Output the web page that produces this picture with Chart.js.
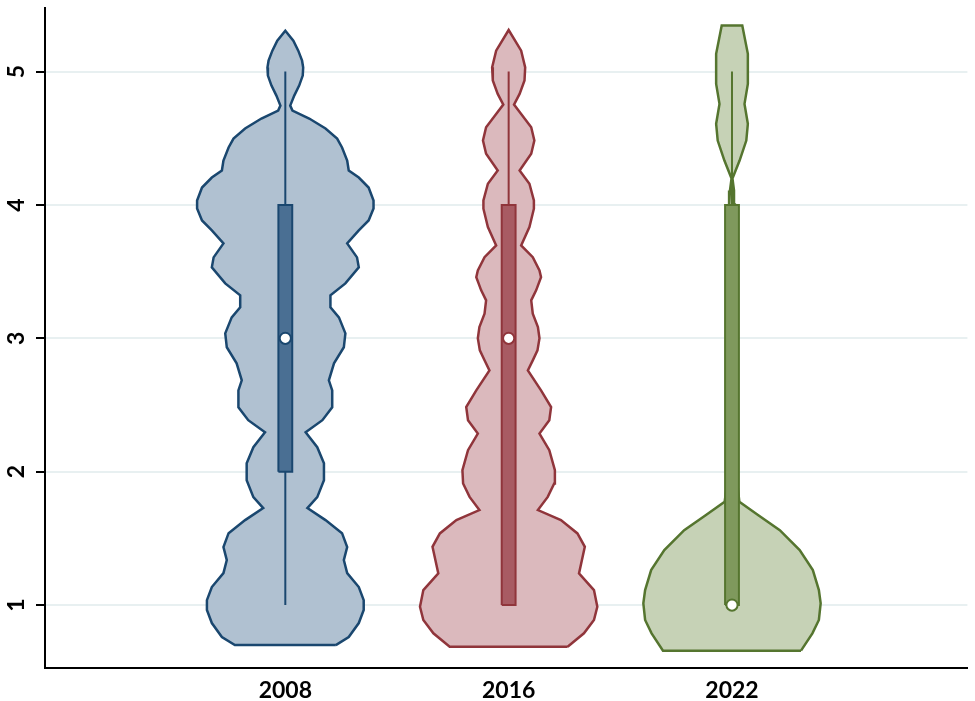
<!DOCTYPE html>
<html>
<head>
<meta charset="utf-8">
<script src="https://cdn.jsdelivr.net/npm/chart.js@4/dist/chart.umd.min.js"></script>
<style>
html,body{margin:0;padding:0;background:#fff;}
#wrap{width:975px;height:701px;}
</style>
</head>
<body>
<div id="wrap"><canvas id="c" width="975" height="701"></canvas></div>
<script>
// ---------- DATA ----------
const categories = ['2008', '2016', '2022'];
const catPos = [1, 2, 3];
const yTicks = [1, 2, 3, 4, 5];
const yTickLabels = ['1', '2', '3', '4', '5'];

// violin outlines: y values (bottom->top) and half-widths (x-axis units)
const v2008Y = [0.700,0.760,0.865,0.963,1.037,1.135,1.240,1.337,1.434,1.539,1.637,1.727,1.809,1.936,2.064,2.184,2.296,2.386,2.483,2.610,2.685,2.813,2.933,3.037,3.157,3.232,3.322,3.412,3.532,3.607,3.712,3.809,3.884,3.974,4.034,4.131,4.206,4.258,4.333,4.431,4.498,4.573,4.648,4.708,4.745,4.820,4.895,4.970,5.030,5.082,5.157,5.232,5.307];
const v2008W = [0.226,0.284,0.329,0.351,0.351,0.329,0.277,0.262,0.277,0.254,0.180,0.099,0.143,0.173,0.173,0.143,0.091,0.166,0.210,0.210,0.195,0.218,0.262,0.269,0.240,0.202,0.202,0.269,0.329,0.321,0.277,0.329,0.373,0.395,0.395,0.373,0.329,0.284,0.277,0.254,0.232,0.180,0.107,0.032,0.022,0.040,0.062,0.078,0.080,0.075,0.058,0.036,0];

const v2016Y = [0.688,0.788,0.888,0.987,1.112,1.237,1.437,1.537,1.637,1.712,1.811,1.912,2.011,2.161,2.286,2.386,2.485,2.610,2.760,2.835,2.910,3.000,3.085,3.185,3.285,3.360,3.459,3.509,3.609,3.697,3.834,3.972,4.034,4.159,4.258,4.384,4.483,4.583,4.683,4.753,4.833,4.933,5.032,5.157,5.312];
const v2016W = [0.264,0.337,0.382,0.397,0.382,0.315,0.341,0.308,0.234,0.131,0.175,0.204,0.207,0.182,0.138,0.182,0.190,0.145,0.086,0.108,0.129,0.138,0.131,0.108,0.101,0.123,0.145,0.138,0.108,0.056,0.093,0.113,0.113,0.093,0.049,0.101,0.115,0.101,0.056,0.024,0.049,0.071,0.074,0.056,0];

const v2022Y = [0.658,0.788,0.888,1.013,1.112,1.262,1.412,1.562,1.674,1.774,1.936,2.536,3.285,3.884,4.004,4.109,4.199,4.333,4.483,4.608,4.758,4.908,5.133,5.345];
const v2022W = [0.309,0.360,0.389,0.397,0.389,0.362,0.303,0.214,0.118,0.033,0.022,0.018,0.018,0.016,0.013,0.009,0.002,0.034,0.064,0.071,0.056,0.071,0.071,0.046];

// box plot statistics
const whiskerLow = [1, 1, 1];
const whiskerHigh = [5, 5, 5];
const boxQ1 = [2, 1, 1];
const boxQ3 = [4, 4, 4];
const medians = [3, 3, 1];

// ---------- STYLE ----------
const outlineColors = ['#1a476f', '#90353b', '#55752f'];
const violinFills = ['#b0c1d1', '#dbb9bd', '#c6d2b6'];
const boxFills = ['#4a6f93', '#a85b63', '#7f995d'];
const boxHalf = 0.031;
const FONT = 'Lato, "Open Sans", sans-serif';

const violinY = [v2008Y, v2016Y, v2022Y];
const violinW = [v2008W, v2016W, v2022W];

function violinPoints(c, ys, ws) {
  const right = ys.map((y, i) => ({x: c + ws[i], y}));
  const left = ys.map((y, i) => ({x: c - ws[i], y})).reverse();
  const pts = right.concat(left);
  pts.push({x: pts[0].x, y: pts[0].y});
  return pts;
}
function boxPoints(c, q1, q3) {
  return [
    {x: c - boxHalf, y: q1}, {x: c + boxHalf, y: q1},
    {x: c + boxHalf, y: q3}, {x: c - boxHalf, y: q3},
    {x: c - boxHalf, y: q1}
  ];
}

const datasets = [];
catPos.forEach((c, i) => {
  datasets.push({
    label: categories[i] + ' violin',
    data: violinPoints(c, violinY[i], violinW[i]),
    borderColor: outlineColors[i], backgroundColor: violinFills[i],
    borderWidth: 2.5, fill: 'shape', tension: 0, pointRadius: 0, order: 40 - i
  });
  datasets.push({
    label: categories[i] + ' whisker',
    data: [{x: c, y: whiskerLow[i]}, {x: c, y: whiskerHigh[i]}],
    borderColor: outlineColors[i], borderWidth: 2, fill: false, pointRadius: 0, order: 30 - i
  });
  datasets.push({
    label: categories[i] + ' box',
    data: boxPoints(c, boxQ1[i], boxQ3[i]),
    borderColor: outlineColors[i], backgroundColor: boxFills[i],
    borderWidth: 2, fill: 'shape', tension: 0, pointRadius: 0, borderJoinStyle: 'miter', order: 20 - i
  });
  datasets.push({
    label: categories[i] + ' median',
    data: [{x: c, y: medians[i]}],
    showLine: false, pointRadius: 5.6, pointBackgroundColor: '#ffffff',
    pointBorderColor: outlineColors[i], pointBorderWidth: 2, order: 10 - i
  });
});

const yLabelPlugin = {
  id: 'yLabels',
  afterDraw(chart) {
    const s = chart.scales.y;
    const ctx = chart.ctx;
    ctx.save();
    ctx.font = 'bold 23px ' + FONT;
    ctx.fillStyle = '#000';
    ctx.textAlign = 'center';
    ctx.textBaseline = 'alphabetic';
    s.ticks.forEach((t, i) => {
      const py = s.getPixelForValue(t.value);
      ctx.save();
      ctx.translate(s.right - 21.5, py);
      ctx.rotate(-Math.PI / 2);
      ctx.fillText(yTickLabels[i], 0, 0);
      ctx.restore();
    });
    ctx.restore();
  }
};

new Chart(document.getElementById('c'), {
  type: 'line',
  data: {datasets},
  plugins: [yLabelPlugin],
  options: {
    responsive: false,
    animation: false,
    events: [],
    layout: {padding: {top: 7, right: 0, left: 0, bottom: 0}},
    plugins: {legend: {display: false}, tooltip: {enabled: false}},
    scales: {
      x: {
        type: 'linear',
        min: -0.076, max: 4.054,
        afterBuildTicks: (s) => { s.ticks = catPos.map(v => ({value: v})); },
        afterFit: (s) => { s.height = 33; },
        grid: {display: false, drawTicks: false},
        border: {display: true, color: '#000', width: 2},
        ticks: {
          autoSkip: false, maxRotation: 0, padding: 9, color: '#000',
          font: {family: FONT, size: 23, weight: 'bold'},
          callback: (v) => { const k = catPos.indexOf(v); return k >= 0 ? categories[k] : ''; }
        }
      },
      y: {
        type: 'linear',
        min: 0.528, max: 5.48,
        afterBuildTicks: (s) => { s.ticks = yTicks.map(v => ({value: v})); },
        afterFit: (s) => { s.width = 45; },
        grid: {color: '#e8f0f1', lineWidth: 2, drawTicks: true, tickLength: 9, tickColor: '#000', tickWidth: 2},
        border: {display: true, color: '#000', width: 2},
        ticks: {display: false}
      }
    }
  }
});
</script>
</body>
</html>
